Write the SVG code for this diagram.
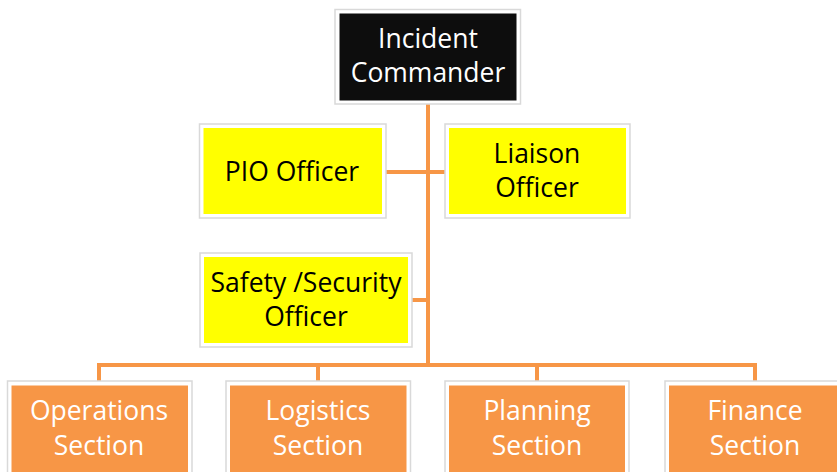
<svg xmlns="http://www.w3.org/2000/svg" width="837" height="472" viewBox="0 0 837 472">
  <style>
    .frame { fill: #ffffff; stroke: #d9d9d9; stroke-width: 1.5; }
    .black { fill: #0d0d0d; }
    .yellow { fill: #ffff00; }
    .orange { fill: #f79646; }
    .lbl { font-family: "Open Sans", "Liberation Sans", sans-serif; font-size: 26.5px; text-anchor: middle; }
    .dark { fill: #000000; }
    .light { fill: #ffffff; }
    .conn { fill: none; stroke: #f79646; stroke-width: 4; }
  </style>

  <g id="connectors">
    <line class="conn" x1="428" y1="104" x2="428" y2="365"/>
    <line class="conn" x1="386" y1="172" x2="445" y2="172"/>
    <line class="conn" x1="412" y1="300" x2="428" y2="300"/>
    <polyline class="conn" points="99,381 99,365 755,365 755,381"/>
    <line class="conn" x1="318" y1="365" x2="318" y2="381"/>
    <line class="conn" x1="537" y1="365" x2="537" y2="381"/>
  </g>

  <g id="incident-commander">
    <rect class="frame" x="335" y="9.5" width="185.5" height="94.5"/>
    <rect class="black" x="339.5" y="13.5" width="177" height="87"/>
    <text class="lbl light" x="428" y="48">Incident</text>
    <text class="lbl light" x="428" y="82">Commander</text>
  </g>

  <g id="pio-officer">
    <rect class="frame" x="199.5" y="124" width="186.5" height="94"/>
    <rect class="yellow" x="203.5" y="128" width="178.5" height="86"/>
    <text class="lbl dark" x="292" y="181">PIO Officer</text>
  </g>

  <g id="liaison-officer">
    <rect class="frame" x="445" y="124" width="185" height="94"/>
    <rect class="yellow" x="449" y="128" width="177" height="86"/>
    <text class="lbl dark" x="537" y="163">Liaison</text>
    <text class="lbl dark" x="537" y="197">Officer</text>
  </g>

  <g id="safety-security-officer">
    <rect class="frame" x="200" y="253" width="212" height="94"/>
    <rect class="yellow" x="204" y="257" width="204" height="86"/>
    <text class="lbl dark" x="306" y="292">Safety /Security</text>
    <text class="lbl dark" x="306" y="326">Officer</text>
  </g>

  <g id="operations-section">
    <rect class="frame" x="7.5" y="381" width="184.5" height="100"/>
    <rect class="orange" x="11.5" y="385.5" width="176.5" height="95"/>
    <text class="lbl light" x="99" y="420">Operations</text>
    <text class="lbl light" x="99" y="455">Section</text>
  </g>

  <g id="logistics-section">
    <rect class="frame" x="226" y="381" width="184.5" height="100"/>
    <rect class="orange" x="230" y="385.5" width="176.5" height="95"/>
    <text class="lbl light" x="318" y="420">Logistics</text>
    <text class="lbl light" x="318" y="455">Section</text>
  </g>

  <g id="planning-section">
    <rect class="frame" x="445" y="381" width="184" height="100"/>
    <rect class="orange" x="449" y="385.5" width="176" height="95"/>
    <text class="lbl light" x="537" y="420">Planning</text>
    <text class="lbl light" x="537" y="455">Section</text>
  </g>

  <g id="finance-section">
    <rect class="frame" x="665" y="381" width="184" height="100"/>
    <rect class="orange" x="669" y="385.5" width="176" height="95"/>
    <text class="lbl light" x="755" y="420">Finance</text>
    <text class="lbl light" x="755" y="455">Section</text>
  </g>
</svg>
